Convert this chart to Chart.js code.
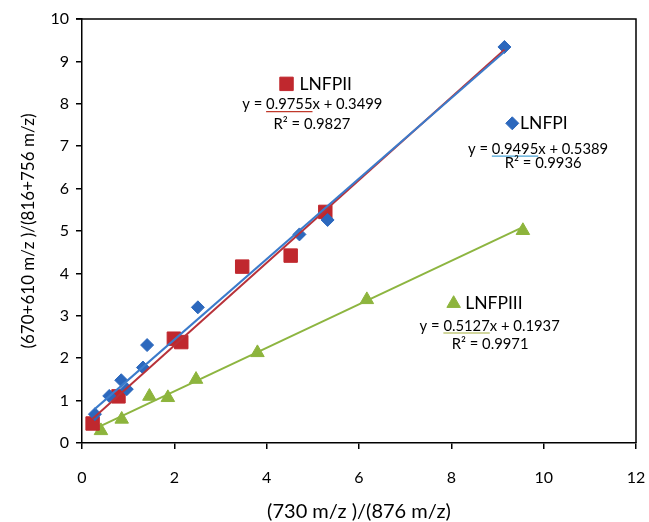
<!DOCTYPE html>
<html><head><meta charset="utf-8">
<script src="https://cdn.jsdelivr.net/npm/chart.js@4/dist/chart.umd.min.js"></script>
<style>html,body{margin:0;padding:0;background:#fff;}#wrap{width:649px;height:522px;}</style>
</head><body><div id="wrap"><canvas id="c" width="649" height="522"></canvas></div>
<script>
// ---- data ----
const xTicks = [0, 2, 4, 6, 8, 10, 12];
const yTicks = [0, 1, 2, 3, 4, 5, 6, 7, 8, 9, 10];

const lnfpiX = [0.28, 0.59, 0.85, 0.97, 1.32, 1.41, 2.51, 4.71, 5.32, 9.15];
const lnfpiY = [0.68, 1.11, 1.48, 1.27, 1.78, 2.31, 3.20, 4.92, 5.26, 9.34];

const lnfpiiX = [0.23, 0.79, 1.99, 2.15, 3.47, 4.52, 5.27];
const lnfpiiY = [0.46, 1.10, 2.46, 2.38, 4.16, 4.42, 5.45];

const lnfpiiiX = [0.41, 0.86, 1.46, 1.86, 2.47, 3.80, 6.17, 9.55];
const lnfpiiiY = [0.29, 0.56, 1.10, 1.07, 1.50, 2.13, 3.38, 5.01];

// trendline coefficients (as printed on the chart) and x extents
const seriesNames = ['LNFPI', 'LNFPII', 'LNFPIII'];
const slopes = [0.9495, 0.9755, 0.5127];
const intercepts = [0.5389, 0.3499, 0.1937];
const r2 = ['0.9936', '0.9827', '0.9971'];
const slopeText = ['0.9495', '0.9755', '0.5127'];
const interceptText = ['0.5389', '0.3499', '0.1937'];
const fitFromX = [0.28, 0.23, 0.41];
const fitToX = [9.15, 9.15, 9.55];

// ---- styling ----
const FONT = 'Lato, "Open Sans", sans-serif';
const markerColors = ['#2c68bd', '#c0282e', '#8db43c'];
const lineColors = ['#3b7bcb', '#b8323a', '#8db540'];
const underlineColors = ['#4aa3d6', '#c0392b', '#a3ad3c'];
const pointStyles = ['rectRot', 'rect', 'triangle'];
const pointRadii = [6.5, 9.5, 7.8];

function pts(xs, ys) { return xs.map((x, i) => ({x: x, y: ys[i]})); }
function fit(i) {
  return [fitFromX[i], fitToX[i]].map(x => ({x: x, y: slopes[i] * x + intercepts[i]}));
}
const seriesData = [pts(lnfpiX, lnfpiY), pts(lnfpiiX, lnfpiiY), pts(lnfpiiiX, lnfpiiiY)];

const datasets = [];
[0, 2, 1].forEach(i => {
  datasets.push({
    type: 'line', label: seriesNames[i] + ' fit', data: fit(i),
    borderColor: lineColors[i], borderWidth: 2, pointRadius: 0, fill: false, order: 0
  });
});
[0, 1, 2].forEach(i => {
  datasets.push({
    type: 'scatter', label: seriesNames[i], data: seriesData[i],
    pointStyle: pointStyles[i], pointRadius: pointRadii[i],
    backgroundColor: markerColors[i], borderColor: markerColors[i], borderWidth: 1, order: 1
  });
});

// annotation layout (data-space anchors)
const annot = [
  {marker: [9.32, 7.54], text: 9.49, eq: [9.88, 6.93], r: [9.99, 6.59]},
  {marker: [4.43, 8.47], text: 4.71, eq: [4.99, 7.98], r: [4.98, 7.53]},
  {marker: [8.05, 3.29], text: 8.30, eq: [8.83, 2.76], r: [8.84, 2.34]}
];

const annotPlugin = {
  id: 'annot',
  afterDraw(chart) {
    const ctx = chart.ctx, xs = chart.scales.x, ys = chart.scales.y, ca = chart.chartArea;
    ctx.save();
    // frame (top and right)
    ctx.strokeStyle = '#000'; ctx.lineWidth = 1.5;
    ctx.beginPath();
    ctx.moveTo(ca.left - 6, ca.top); ctx.lineTo(ca.right, ca.top); ctx.lineTo(ca.right, ca.bottom);
    ctx.stroke();
    annot.forEach((a, i) => {
      const mx = xs.getPixelForValue(a.marker[0]), my = ys.getPixelForValue(a.marker[1]);
      ctx.fillStyle = markerColors[i]; ctx.strokeStyle = markerColors[i]; ctx.lineWidth = 1;
      Chart.helpers.drawPoint(ctx, {pointStyle: pointStyles[i], radius: pointRadii[i], borderWidth: 1}, mx, my);
      ctx.fillStyle = '#000';
      ctx.font = '17.5px ' + FONT; ctx.textAlign = 'left'; ctx.textBaseline = 'middle';
      ctx.fillText(seriesNames[i], xs.getPixelForValue(a.text), my);
      // equation
      ctx.font = '14.8px ' + FONT;
      const p1 = 'y = ', p2 = slopeText[i], p3 = 'x + ' + interceptText[i];
      const w1 = ctx.measureText(p1).width, w2 = ctx.measureText(p2).width, w3 = ctx.measureText(p3).width;
      const ex = xs.getPixelForValue(a.eq[0]) - (w1 + w2 + w3) / 2, ey = ys.getPixelForValue(a.eq[1]);
      ctx.fillText(p1, ex, ey); ctx.fillText(p2, ex + w1, ey); ctx.fillText(p3, ex + w1 + w2, ey);
      ctx.strokeStyle = underlineColors[i]; ctx.lineWidth = 1.2;
      ctx.beginPath(); ctx.moveTo(ex + w1, ey + 7); ctx.lineTo(ex + w1 + w2, ey + 7); ctx.stroke();
      ctx.textAlign = 'center';
      ctx.fillText('R\u00B2 = ' + r2[i], xs.getPixelForValue(a.r[0]), ys.getPixelForValue(a.r[1]));
    });
    ctx.restore();
  }
};

const axisCommon = {
  type: 'linear',
  grid: {drawOnChartArea: false, drawTicks: true, tickLength: 6, color: '#000', lineWidth: 1.5},
  border: {color: '#000', width: 1.5},
};

new Chart(document.getElementById('c'), {
  type: 'scatter',
  data: {datasets: datasets},
  options: {
    responsive: false, animation: false, devicePixelRatio: 1,
    layout: {padding: {top: 19, right: 13, left: 0, bottom: 0}},
    plugins: {legend: {display: false}, tooltip: {enabled: false}},
    scales: {
      x: Object.assign({}, axisCommon, {
        min: 0, max: 12,
        afterBuildTicks: s => { s.ticks = xTicks.map(v => ({value: v})); },
        afterFit: s => { s.height = 79; s.paddingLeft = 0; s.paddingRight = 0; },
        ticks: {color: '#000', font: {family: FONT, size: 16}, padding: 19, maxRotation: 0},
        title: {display: true, text: '(730 m/z )/(876 m/z)', color: '#000',
                font: {family: FONT, size: 20, lineHeight: 1}, padding: 0}
      }),
      y: Object.assign({}, axisCommon, {
        min: 0, max: 10,
        afterBuildTicks: s => { s.ticks = yTicks.map(v => ({value: v})); },
        afterFit: s => { s.width = 82; s.paddingTop = 0; s.paddingBottom = 0; },
        ticks: {color: '#000', font: {family: FONT, size: 16}, padding: 7},
        title: {display: true, text: '(670+610 m/z )/(816+756 m/z)', color: '#000',
                font: {family: FONT, size: 17}, padding: {top: 18}}
      })
    }
  },
  plugins: [annotPlugin]
});
</script></body></html>
